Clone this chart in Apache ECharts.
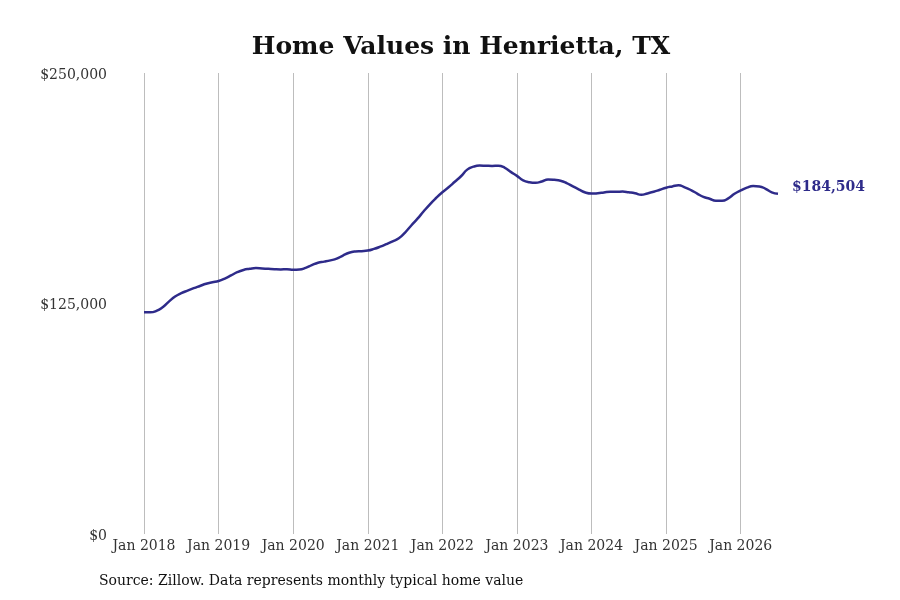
<!DOCTYPE html>
<html>
<head>
<meta charset="utf-8">
<title>Home Values in Henrietta, TX</title>
<script src="https://cdn.jsdelivr.net/npm/echarts@6/dist/echarts.min.js"></script>
<style>
  html, body { margin: 0; padding: 0; background: #fff; }
  #chart { width: 900px; height: 600px; }
</style>
</head>
<body>
<div id="chart"></div>
<script>
// typical home value by month, Jan 2018 .. Jul 2026
const startYear = 2018
const values = [
  // 2018
  120200, 120200, 121000, 123000, 126000, 128800, 130600, 132000, 133300, 134500, 135700, 136500,
  // 2019
  137200, 138500, 140200, 142000, 143200, 143800, 144200, 144000, 143800, 143600, 143500, 143600,
  // 2020
  143300, 143400, 144300, 145800, 147100, 147700, 148400, 149300, 151000, 152500, 153200, 153400,
  // 2021
  153700, 154600, 155800, 157200, 158700, 160400, 163500, 167300, 171000, 175000, 178800, 182200,
  // 2022
  185300, 188000, 191000, 194000, 197600, 199200, 199800, 199700, 199600, 199700, 198700, 196400,
  // 2023
  194200, 191800, 190800, 190500, 191200, 192300, 192100, 191600, 190300, 188500, 186800, 185200,
  // 2024
  184600, 184800, 185200, 185600, 185600, 185700, 185300, 184800, 184000, 184700, 185600, 186700,
  // 2025
  187800, 188500, 189100, 188000, 186500, 184600, 182800, 181800, 180700, 180700, 182000, 184500,
  // 2026
  186300, 187800, 188700, 188500, 187200, 185300, 184504
]
const monthNames = ['Jan', 'Feb', 'Mar', 'Apr', 'May', 'Jun', 'Jul', 'Aug', 'Sep', 'Oct', 'Nov', 'Dec']
const months = values.map((v, i) => monthNames[i % 12] + ' ' + (startYear + Math.floor(i / 12)))
const yTicks = [0, 125000, 250000]

const fmtMoney = v => '$' + Math.round(v).toLocaleString('en-US')
const serif = '"DejaVu Serif", serif'
const lineColor = '#2e2b8a'

const chart = echarts.init(document.getElementById('chart'))
chart.setOption({
  animation: false,
  title: {
    text: 'Home Values in Henrietta, TX',
    left: 456,
    top: 30,
    textAlign: 'center',
    textStyle: { fontFamily: serif, fontSize: 25, fontWeight: 'bold', color: '#111' },
  },
  graphic: [{
    type: 'text',
    left: 99,
    top: 574,
    style: {
      text: 'Source: Zillow. Data represents monthly typical home value',
      font: '14px ' + serif,
      fill: '#111',
    },
  }],
  grid: { left: 144, right: 122, top: 73, bottom: 66 },
  xAxis: {
    type: 'category',
    data: months,
    boundaryGap: false,
    axisLine: { show: false },
    axisTick: { show: false },
    axisLabel: {
      interval: i => i % 12 === 0,
      margin: 5,
      fontFamily: serif,
      fontSize: 14,
      color: '#333',
    },
    splitLine: {
      show: true,
      interval: i => i % 12 === 0,
      lineStyle: { color: '#bdbdbd', width: 1 },
    },
  },
  yAxis: {
    type: 'value',
    min: yTicks[0],
    max: yTicks[yTicks.length - 1],
    interval: yTicks[1] - yTicks[0],
    axisLine: { show: false },
    axisTick: { show: false },
    splitLine: { show: false },
    axisLabel: {
      margin: 37,
      formatter: v => '{m|' + fmtMoney(v) + '}',
      rich: {
        m: { padding: [4, 0, 0, 0], fontFamily: serif, fontSize: 14, color: '#333' },
      },
    },
  },
  series: [{
    type: 'line',
    data: values,
    smooth: true,
    showSymbol: false,
    lineStyle: { color: lineColor, width: 2.5 },
    itemStyle: { color: lineColor },
    endLabel: {
      show: true,
      distance: 14,
      offset: [0, -6],
      formatter: p => fmtMoney(p.value),
      fontFamily: serif,
      fontSize: 14,
      fontWeight: 'bold',
      color: lineColor,
    },
  }],
})
</script>
</body>
</html>
